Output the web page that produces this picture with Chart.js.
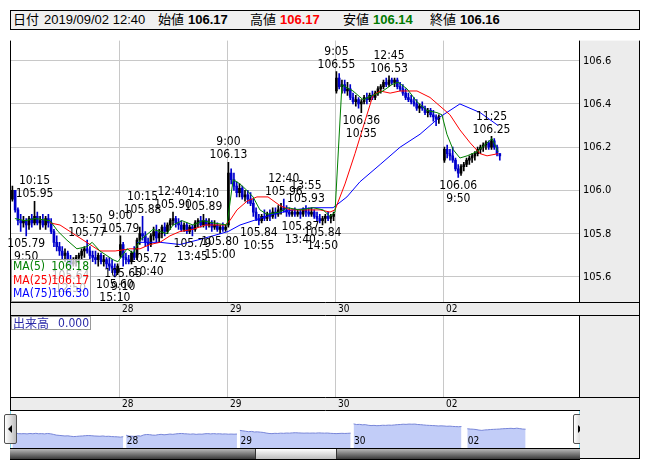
<!DOCTYPE html>
<html>
<head>
<meta charset="utf-8">
<script src="https://cdn.jsdelivr.net/npm/chart.js@4.4.1/dist/chart.umd.min.js"></script>
<style>
  html, body { margin: 0; padding: 0; background: #fff; }
  body { width: 652px; height: 469px; position: relative; overflow: hidden;
         font-family: "Liberation Sans", "Noto Sans CJK JP", sans-serif; }
  canvas { position: absolute; left: 0; }
  #header { position: absolute; left: 10px; top: 10px; width: 628px; height: 18px;
            border: 1px solid #000; background: #f0f0f0; font-size: 13px; line-height: 18px; }
  #header span { position: absolute; top: 0; white-space: nowrap; }
  #header b { font-weight: bold; margin-left: 4px; }
  #stamp { position: static !important; margin-left: 5px; }
  .btn { position: absolute; top: 414px; width: 11px; height: 28px; border: 1px solid #505050;
         border-radius: 2px; background: linear-gradient(to right, #ffffff, #bdbdbd); }
  .btn i { position: absolute; top: 10px; width: 0; height: 0; border-top: 4px solid transparent;
           border-bottom: 4px solid transparent; }
  #btnL { left: 4px; }
  #btnL i { left: 3px; border-right: 4px solid #000; }
  #btnR { left: 573px; }
  #btnR i { left: 4px; border-left: 4px solid #000; }
  .cyan { position: absolute; top: 411px; width: 1px; height: 37px; background: #7fd6ea; }
  #scroll { position: absolute; left: 10px; top: 448px; width: 570px; height: 10px;
            border-top: 1px solid #000; border-bottom: 1px solid #000;
            background: linear-gradient(to bottom, #b8b8b8, #3a3a3a); }
  #thumb { position: absolute; left: 245px; top: 0; width: 80px; height: 10px;
           border-left: 1px solid #333; border-right: 1px solid #333;
           background: linear-gradient(to bottom, #ffffff, #bcbcbc); }
  #corner { position: absolute; left: 580px; top: 410px; width: 59px; height: 48px;
            background: #ececec; border-right: 1px solid #000; border-bottom: 1px solid #000; }
</style>
</head>
<body>
<div id="header">
  <span style="left:2px">日付<span id="stamp"></span></span>
  <span style="left:147px">始値<b id="vOpen"></b></span>
  <span style="left:239px">高値<b id="vHigh" style="color:#ff0000"></b></span>
  <span style="left:332px">安値<b id="vLow" style="color:#007a00"></b></span>
  <span style="left:419px">終値<b id="vClose"></b></span>
</div>
<canvas id="main" width="652" height="286" style="top:30px"></canvas>
<canvas id="volume" width="652" height="95" style="top:316px"></canvas>
<canvas id="nav" width="652" height="37" style="top:411px"></canvas>
<div class="cyan" style="left:10px"></div>
<div class="cyan" style="left:579px"></div>
<div id="btnL" class="btn"><i></i></div>
<div id="btnR" class="btn"><i></i></div>
<div id="scroll"><div id="thumb"></div></div>
<div id="corner"></div>
<script>
"use strict";

// 10 minute bars from 9:00, [open, high, low, close]
const day27 = [
  [105.96, 106.02, 105.95, 106.0], [106.0, 106.0, 105.9, 105.91], [105.91, 105.92, 105.84, 105.86], [105.86, 105.89, 105.81, 105.85],
  [105.85, 105.88, 105.83, 105.86], [105.86, 105.87, 105.79, 105.84], [105.84, 105.88, 105.82, 105.87], [105.87, 105.89, 105.83, 105.85],
  [105.85, 105.95, 105.84, 105.88], [105.88, 105.9, 105.84, 105.85], [105.85, 105.88, 105.82, 105.86], [105.86, 105.89, 105.83, 105.84],
  [105.84, 105.88, 105.82, 105.87], [105.87, 105.89, 105.83, 105.85], [105.85, 105.87, 105.8, 105.81], [105.81, 105.82, 105.74, 105.76],
  [105.76, 105.79, 105.72, 105.74], [105.74, 105.76, 105.7, 105.72], [105.72, 105.74, 105.68, 105.7], [105.7, 105.73, 105.67, 105.71],
  [105.71, 105.72, 105.66, 105.68], [105.68, 105.7, 105.64, 105.66], [105.66, 105.69, 105.65, 105.67], [105.67, 105.7, 105.65, 105.69],
  [105.69, 105.71, 105.66, 105.7], [105.7, 105.73, 105.68, 105.72], [105.72, 105.74, 105.69, 105.73], [105.73, 105.77, 105.71, 105.72],
  [105.72, 105.74, 105.68, 105.7], [105.7, 105.72, 105.67, 105.69], [105.69, 105.72, 105.66, 105.68], [105.68, 105.71, 105.65, 105.7],
  [105.7, 105.71, 105.66, 105.67], [105.67, 105.7, 105.65, 105.68], [105.68, 105.69, 105.64, 105.66], [105.66, 105.69, 105.63, 105.65],
  [105.65, 105.68, 105.62, 105.64], [105.64, 105.66, 105.6, 105.62], [105.62, 105.66, 105.61, 105.65],
];
const day28 = [
  [105.7, 105.79, 105.69, 105.75], [105.75, 105.76, 105.65, 105.69], [105.69, 105.71, 105.66, 105.68], [105.68, 105.7, 105.66, 105.67],
  [105.67, 105.72, 105.66, 105.71], [105.71, 105.74, 105.68, 105.69], [105.69, 105.78, 105.68, 105.77], [105.77, 105.83, 105.75, 105.8],
  [105.8, 105.88, 105.77, 105.79], [105.79, 105.81, 105.74, 105.76], [105.76, 105.78, 105.72, 105.75], [105.75, 105.8, 105.74, 105.79],
  [105.79, 105.83, 105.77, 105.81], [105.81, 105.84, 105.76, 105.78], [105.78, 105.82, 105.76, 105.8], [105.8, 105.84, 105.78, 105.83],
  [105.83, 105.85, 105.79, 105.81], [105.81, 105.85, 105.8, 105.84], [105.84, 105.87, 105.82, 105.86], [105.86, 105.9, 105.84, 105.87],
  [105.87, 105.88, 105.83, 105.85], [105.85, 105.87, 105.82, 105.84], [105.84, 105.86, 105.81, 105.82], [105.82, 105.85, 105.81, 105.84],
  [105.84, 105.85, 105.8, 105.81], [105.81, 105.84, 105.8, 105.83], [105.83, 105.84, 105.79, 105.82], [105.82, 105.86, 105.81, 105.85],
  [105.85, 105.87, 105.83, 105.86], [105.86, 105.88, 105.83, 105.84], [105.84, 105.89, 105.83, 105.86], [105.86, 105.87, 105.82, 105.84],
  [105.84, 105.87, 105.83, 105.85], [105.85, 105.86, 105.81, 105.83], [105.83, 105.86, 105.82, 105.84], [105.84, 105.85, 105.81, 105.82],
  [105.82, 105.84, 105.8, 105.83], [105.83, 105.85, 105.81, 105.82], [105.82, 105.84, 105.81, 105.83],
];
const day29 = [
  [105.84, 106.13, 105.83, 106.08], [106.08, 106.1, 106.03, 106.05], [106.05, 106.08, 106.0, 106.02], [106.02, 106.04, 105.97, 105.99],
  [105.99, 106.03, 105.97, 106.01], [106.01, 106.02, 105.96, 105.97], [105.97, 106.0, 105.95, 105.98], [105.98, 106.0, 105.94, 105.96],
  [105.96, 105.99, 105.93, 105.94], [105.94, 105.96, 105.88, 105.9], [105.9, 105.92, 105.86, 105.87], [105.87, 105.89, 105.84, 105.86],
  [105.86, 105.89, 105.85, 105.88], [105.88, 105.91, 105.86, 105.87], [105.87, 105.9, 105.86, 105.89], [105.89, 105.91, 105.86, 105.88],
  [105.88, 105.92, 105.87, 105.9], [105.9, 105.92, 105.87, 105.89], [105.89, 105.93, 105.88, 105.91], [105.91, 105.94, 105.89, 105.92],
  [105.92, 105.96, 105.9, 105.91], [105.91, 105.93, 105.88, 105.9], [105.9, 105.92, 105.88, 105.89], [105.89, 105.91, 105.88, 105.9],
  [105.9, 105.92, 105.88, 105.89], [105.89, 105.91, 105.88, 105.9], [105.9, 105.91, 105.87, 105.89], [105.89, 105.92, 105.88, 105.91],
  [105.91, 105.93, 105.88, 105.9], [105.9, 105.92, 105.88, 105.89], [105.89, 105.92, 105.88, 105.9], [105.9, 105.91, 105.87, 105.88],
  [105.88, 105.9, 105.86, 105.87], [105.87, 105.89, 105.85, 105.86], [105.86, 105.88, 105.84, 105.87], [105.87, 105.89, 105.85, 105.88],
  [105.88, 105.9, 105.86, 105.87], [105.87, 105.89, 105.85, 105.88], [105.88, 105.9, 105.86, 105.89],
];
const day30 = [
  [106.46, 106.55, 106.45, 106.52], [106.52, 106.54, 106.47, 106.48], [106.48, 106.51, 106.45, 106.49], [106.49, 106.51, 106.45, 106.46],
  [106.46, 106.5, 106.44, 106.47], [106.47, 106.49, 106.42, 106.43], [106.43, 106.45, 106.4, 106.41], [106.41, 106.44, 106.39, 106.42],
  [106.42, 106.43, 106.38, 106.4], [106.4, 106.42, 106.36, 106.41], [106.41, 106.44, 106.4, 106.43], [106.43, 106.45, 106.4, 106.42],
  [106.42, 106.45, 106.41, 106.44], [106.44, 106.46, 106.42, 106.43], [106.43, 106.46, 106.42, 106.45], [106.45, 106.48, 106.44, 106.47],
  [106.47, 106.49, 106.45, 106.48], [106.48, 106.51, 106.47, 106.5], [106.5, 106.52, 106.48, 106.49], [106.49, 106.53, 106.48, 106.51],
  [106.51, 106.52, 106.49, 106.5], [106.5, 106.52, 106.48, 106.51], [106.51, 106.52, 106.47, 106.48], [106.48, 106.5, 106.46, 106.47],
  [106.47, 106.49, 106.44, 106.45], [106.45, 106.47, 106.42, 106.43], [106.43, 106.45, 106.41, 106.42], [106.42, 106.44, 106.4, 106.41],
  [106.41, 106.43, 106.39, 106.4], [106.4, 106.42, 106.37, 106.38], [106.38, 106.4, 106.36, 106.39], [106.39, 106.41, 106.37, 106.38],
  [106.38, 106.39, 106.35, 106.36], [106.36, 106.38, 106.34, 106.37], [106.37, 106.38, 106.34, 106.35], [106.35, 106.37, 106.32, 106.34],
  [106.34, 106.35, 106.3, 106.33], [106.33, 106.35, 106.31, 106.34],
];
const day02 = [
  [106.14, 106.2, 106.13, 106.19], [106.19, 106.21, 106.15, 106.17], [106.17, 106.19, 106.14, 106.16], [106.16, 106.2, 106.13, 106.14],
  [106.14, 106.15, 106.09, 106.1], [106.1, 106.12, 106.06, 106.08], [106.08, 106.12, 106.07, 106.11], [106.11, 106.13, 106.09, 106.12],
  [106.12, 106.15, 106.11, 106.14], [106.14, 106.16, 106.12, 106.15], [106.15, 106.17, 106.13, 106.16], [106.16, 106.18, 106.14, 106.17],
  [106.17, 106.2, 106.16, 106.19], [106.19, 106.21, 106.17, 106.2], [106.2, 106.22, 106.18, 106.21], [106.21, 106.23, 106.19, 106.22],
  [106.22, 106.23, 106.19, 106.2], [106.2, 106.25, 106.19, 106.23], [106.23, 106.24, 106.19, 106.2], [106.2, 106.21, 106.16, 106.17],
  [106.17, 106.17, 106.14, 106.16],
];

const dayNames = ["27", "28", "29", "30", "02"];
const lastStamp = "2019/09/02 12:40";
const priceTicks = [105.6, 105.8, 106.0, 106.2, 106.4, 106.6];
const volumeNow = 0;

// moving averages as drawn, [bar slot, value]
const ma5 = [
  [0.9, 105.87], [4.6, 105.86], [8.2, 105.87], [13.6, 105.86], [16.5, 105.81], [19.7, 105.77], [23.3, 105.73],
  [26.9, 105.74], [28.8, 105.76], [31.6, 105.72], [36.3, 105.68], [38.1, 105.67], [41.4, 105.73], [43.6, 105.71],
  [46.1, 105.77], [50.8, 105.82], [55.8, 105.8], [58.0, 105.84], [61.3, 105.86], [65.2, 105.84], [68.8, 105.86],
  [72.4, 105.85], [77.5, 105.84], [79.7, 106.05], [82.2, 106.03], [84.7, 106.0], [86.9, 105.97], [89.4, 105.91],
  [91.9, 105.89], [96.6, 105.9], [99.2, 105.92], [103.9, 105.91], [108.6, 105.92], [112.2, 105.91], [114.7, 105.88],
  [116.5, 105.9], [119.0, 106.49], [120.1, 106.48], [123.0, 106.46], [126.6, 106.42], [130.2, 106.44], [133.8, 106.46],
  [137.1, 106.49], [139.3, 106.5], [142.5, 106.47], [146.1, 106.41], [149.7, 106.37], [153.3, 106.36], [155.1, 106.35],
  [156.9, 106.26], [159.1, 106.19], [161.6, 106.15], [164.2, 106.16], [167.8, 106.18], [171.4, 106.22], [173.2, 106.24],
  [175.4, 106.18],
];
const ma25 = [
  [13.6, 105.85], [17.2, 105.84], [20.8, 105.81], [24.4, 105.78], [28.0, 105.75], [31.6, 105.72], [37.1, 105.72],
  [42.5, 105.73], [46.1, 105.73], [49.7, 105.75], [53.3, 105.76], [56.9, 105.79], [60.5, 105.81], [65.2, 105.82],
  [69.6, 105.84], [73.2, 105.84], [76.8, 105.84], [78.5, 105.86], [81.1, 105.91], [84.7, 105.95], [88.3, 105.97],
  [92.3, 105.97], [96.6, 105.93], [100.3, 105.91], [104.9, 105.91], [111.1, 105.91], [114.7, 105.9], [116.5, 105.91],
  [120.1, 106.03], [123.7, 106.17], [127.3, 106.32], [130.2, 106.44], [132.8, 106.46], [136.4, 106.45], [140.0, 106.46],
  [146.1, 106.46], [150.8, 106.43], [154.4, 106.39], [158.0, 106.35], [161.6, 106.28], [165.3, 106.22], [168.9, 106.17],
  [171.4, 106.16], [175.4, 106.17],
];
const ma75 = [
  [45.0, 105.76], [53.3, 105.76], [60.5, 105.75], [66.7, 105.77], [72.4, 105.79], [77.9, 105.81], [82.2, 105.84],
  [86.9, 105.86], [94.1, 105.89], [101.3, 105.91], [108.6, 105.92], [115.8, 105.92], [120.8, 105.97], [125.5, 106.04],
  [132.8, 106.12], [140.0, 106.2], [147.2, 106.26], [154.4, 106.34], [161.6, 106.4], [168.9, 106.36], [175.4, 106.3],
];

// labelled highs and lows, [day, bar, time]
const highMarks = [
  [0, 8, "10:15"], [0, 27, "13:50"], [1, 0, "9:00"], [1, 8, "10:15"], [1, 19, "12:40"], [1, 30, "14:10"],
  [2, 0, "9:00"], [2, 20, "12:40"], [2, 28, "13:55"], [3, 0, "9:05"], [3, 19, "12:45"], [4, 17, "11:25"],
];
const lowMarks = [
  [0, 5, "9:50"], [0, 21, "12:50"], [0, 37, "15:10"], [1, 1, "9:10"], [1, 10, "10:40"], [1, 26, "13:45"],
  [1, 36, "15:00"], [2, 11, "10:55"], [2, 26, "13:40"], [2, 34, "14:50"], [3, 9, "10:35"], [4, 5, "9:50"],
];

const SLOTS = 39;
const BAND = 13;
const PANEL_EDGE = 640;
const GRID = "#c8c8c8";
const UP = "#000000";
const DOWN = "#0000cc";
const NARROW = '"Liberation Sans Narrow", "DejaVu Sans Condensed", "Liberation Sans", sans-serif';

const days = [day27, day28, day29, day30, day02];
const dayStarts = dayNames.slice(1).map((_, i) => (i + 1) * SLOTS - 0.5);

const candles = [];
days.forEach((bars, d) => {
  bars.forEach((b, k) => {
    candles.push({ x: d * SLOTS + k, o: b[0], h: b[1], l: b[2], c: b[3] });
  });
});
const candleColors = candles.map((c) => (c.c >= c.o ? UP : DOWN));

// header values come from the last bar
const lastBar = day02[day02.length - 1];
document.getElementById("stamp").textContent = lastStamp;
document.getElementById("vOpen").textContent = lastBar[0].toFixed(2);
document.getElementById("vHigh").textContent = lastBar[1].toFixed(2);
document.getElementById("vLow").textContent = lastBar[2].toFixed(2);
document.getElementById("vClose").textContent = lastBar[3].toFixed(2);

// white plot, grey side panel and date band, borders
const framePlugin = {
  id: "frame",
  beforeDraw(chart) {
    const { ctx, chartArea: a } = chart;
    ctx.save();
    ctx.fillStyle = "#ffffff";
    ctx.fillRect(a.left, a.top, a.right - a.left, a.bottom - a.top);
    ctx.fillStyle = "#ececec";
    ctx.fillRect(a.right, a.top, PANEL_EDGE - a.right, a.bottom - a.top);
    ctx.fillRect(a.left, a.bottom, PANEL_EDGE - a.left, BAND);
    ctx.restore();
  },
  afterDraw(chart) {
    const { ctx, chartArea: a } = chart;
    const xs = chart.scales.x;
    ctx.save();
    ctx.strokeStyle = "#000";
    ctx.lineWidth = 1;
    ctx.beginPath();
    ctx.moveTo(a.left - 0.5, a.top);
    ctx.lineTo(a.left - 0.5, a.bottom + BAND + 1);
    ctx.moveTo(a.right + 0.5, a.top);
    ctx.lineTo(a.right + 0.5, a.bottom);
    ctx.moveTo(PANEL_EDGE - 0.5, a.top);
    ctx.lineTo(PANEL_EDGE - 0.5, a.bottom + BAND + 1);
    ctx.moveTo(a.left, a.bottom + 0.5);
    ctx.lineTo(PANEL_EDGE, a.bottom + 0.5);
    ctx.moveTo(a.left, a.bottom + BAND + 0.5);
    ctx.lineTo(PANEL_EDGE, a.bottom + BAND + 0.5);
    ctx.stroke();
    ctx.fillStyle = "#000";
    ctx.font = "10px " + NARROW;
    ctx.textAlign = "left";
    ctx.textBaseline = "middle";
    dayStarts.forEach((v, i) => {
      ctx.fillText(dayNames[i + 1], xs.getPixelForValue(v) + 3, a.bottom + BAND / 2 + 1);
    });
    ctx.restore();
  },
};

// high/low captions and the MA legend box
const overlayPlugin = {
  id: "overlay",
  afterDatasetsDraw(chart) {
    const { ctx, chartArea: a } = chart;
    const xs = chart.scales.x;
    const ys = chart.scales.y;
    ctx.save();
    ctx.fillStyle = "#000";
    ctx.font = "12px " + NARROW;
    ctx.textAlign = "center";
    highMarks.forEach(([d, k, t]) => {
      const px = xs.getPixelForValue(d * SLOTS + k);
      const py = ys.getPixelForValue(days[d][k][1]);
      ctx.textBaseline = "bottom";
      ctx.fillText(days[d][k][1].toFixed(2), px, py - 1);
      ctx.fillText(t, px, py - 14);
    });
    lowMarks.forEach(([d, k, t]) => {
      const px = xs.getPixelForValue(d * SLOTS + k);
      const py = ys.getPixelForValue(days[d][k][2]);
      ctx.textBaseline = "top";
      ctx.fillText(days[d][k][2].toFixed(2), px, py + 2);
      ctx.fillText(t, px, py + 15);
    });

    const rows = [
      ["MA(5)", ma5, "#008000"],
      ["MA(25)", ma25, "#ff0000"],
      ["MA(75)", ma75, "#0000ff"],
    ];
    const top = a.bottom - 43;
    ctx.fillStyle = "rgba(255,255,255,0.72)";
    ctx.fillRect(a.left, top, 80, 43);
    ctx.strokeStyle = "#9a9a9a";
    ctx.strokeRect(a.left + 0.5, top + 0.5, 79, 42);
    ctx.textBaseline = "middle";
    rows.forEach(([name, pts, color], i) => {
      const cy = top + 8 + i * 13.5;
      ctx.fillStyle = color;
      ctx.textAlign = "left";
      ctx.fillText(name, a.left + 2, cy);
      ctx.textAlign = "right";
      ctx.fillText(pts[pts.length - 1][1].toFixed(2), a.left + 78, cy);
    });
    ctx.restore();
  },
};

const volumeLegend = {
  id: "volumeLegend",
  afterDatasetsDraw(chart) {
    const { ctx, chartArea: a } = chart;
    ctx.save();
    ctx.fillStyle = "#ffffff";
    ctx.fillRect(a.left, a.top, 80, 14);
    ctx.strokeStyle = "#9a9a9a";
    ctx.strokeRect(a.left + 0.5, a.top + 0.5, 79, 13);
    ctx.fillStyle = "#2a2aa8";
    ctx.textBaseline = "middle";
    ctx.textAlign = "left";
    ctx.font = '12px "Noto Sans CJK JP", sans-serif';
    ctx.fillText("出来高", a.left + 2, a.top + 7.5);
    ctx.textAlign = "right";
    ctx.font = "12px " + NARROW;
    ctx.fillText(volumeNow.toFixed(3), a.left + 78, a.top + 7.5);
    ctx.restore();
  },
};

function dayAxis(max) {
  return {
    type: "linear",
    min: -0.5,
    max: max,
    offset: false,
    afterBuildTicks: (s) => {
      s.ticks = dayStarts.map((v) => ({ value: v }));
    },
    afterFit: (s) => {
      s.height = BAND + 1;
    },
    grid: { color: GRID, drawTicks: false, offset: false },
    border: { display: false },
    ticks: { display: false },
  };
}

function lineSet(pts, color, order) {
  return {
    type: "line",
    data: pts.map((p) => ({ x: p[0], y: p[1] })),
    borderColor: color,
    borderWidth: 1,
    pointRadius: 0,
    tension: 0,
    fill: false,
    order: order,
  };
}

const baseOptions = {
  responsive: false,
  animation: false,
  events: [],
  devicePixelRatio: 1,
  layout: { padding: { left: 11, right: 12, top: 0, bottom: 0 }, autoPadding: false },
  plugins: { legend: { display: false }, tooltip: { enabled: false } },
};

// main price chart
new Chart(document.getElementById("main"), {
  type: "bar",
  data: {
    datasets: [
      {
        data: candles.map((c) => ({ x: c.x, y: [c.l, c.h] })),
        backgroundColor: candleColors,
        barThickness: 1,
        grouped: false,
        order: 5,
      },
      {
        data: candles.map((c) => ({ x: c.x, y: [c.o, c.c] })),
        backgroundColor: candleColors,
        barThickness: 2,
        minBarLength: 1,
        grouped: false,
        order: 4,
      },
      lineSet(ma75, "#0000ff", 3),
      lineSet(ma25, "#ff0000", 2),
      lineSet(ma5, "#008000", 1),
    ],
  },
  options: {
    ...baseOptions,
    scales: {
      x: dayAxis(204.6),
      y: {
        position: "right",
        min: 105.484,
        max: 106.693,
        afterBuildTicks: (s) => {
          s.ticks = priceTicks.map((v) => ({ value: v }));
        },
        afterFit: (s) => {
          s.width = 61;
        },
        grid: { color: GRID, drawTicks: false },
        border: { display: false },
        ticks: {
          color: "#000",
          padding: 4,
          font: { family: NARROW, size: 11 },
          callback: (v) => Number(v).toFixed(1),
        },
      },
    },
  },
  plugins: [framePlugin, overlayPlugin],
});

// volume pane (no volume reported)
new Chart(document.getElementById("volume"), {
  type: "bar",
  data: { datasets: [] },
  options: {
    ...baseOptions,
    scales: {
      x: dayAxis(204.6),
      y: {
        position: "right",
        min: 0,
        max: 1,
        afterFit: (s) => {
          s.width = 61;
        },
        grid: { display: false },
        border: { display: false },
        ticks: { display: false },
      },
    },
  },
  plugins: [framePlugin, volumeLegend],
});

// overview strip
const navPoints = [];
days.forEach((bars, d) => {
  if (d > 0) navPoints.push({ x: d * SLOTS - 0.5, y: null });
  bars.forEach((b, k) => navPoints.push({ x: d * SLOTS + k, y: b[3] }));
});

const navLabels = {
  id: "navLabels",
  afterDatasetsDraw(chart) {
    const { ctx, chartArea: a } = chart;
    const xs = chart.scales.x;
    ctx.save();
    ctx.fillStyle = "#000";
    ctx.font = "10px " + NARROW;
    ctx.textAlign = "left";
    ctx.textBaseline = "bottom";
    dayStarts.forEach((v, i) => {
      ctx.fillText(dayNames[i + 1], xs.getPixelForValue(v) + 2, a.bottom - 2);
    });
    ctx.restore();
  },
};

new Chart(document.getElementById("nav"), {
  type: "line",
  data: {
    datasets: [
      {
        data: navPoints,
        borderColor: "#7886d8",
        backgroundColor: "#c2cdf8",
        borderWidth: 1,
        pointRadius: 0,
        fill: "start",
        spanGaps: false,
      },
    ],
  },
  options: {
    ...baseOptions,
    layout: { padding: { left: 11, right: 78, top: 0, bottom: 0 }, autoPadding: false },
    scales: {
      x: { type: "linear", display: false, min: -0.5, max: 192.6 },
      y: { display: false, min: 104.88, max: 107.4 },
    },
  },
  plugins: [navLabels],
});
</script>
</body>
</html>
